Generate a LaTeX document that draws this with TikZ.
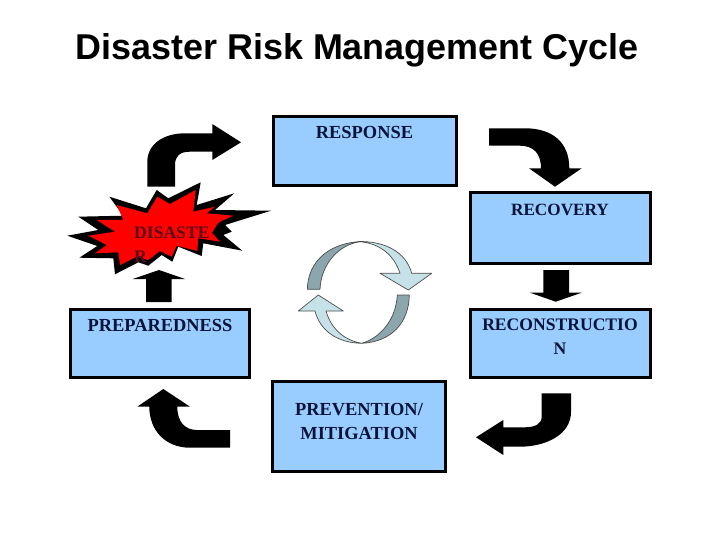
\documentclass[tikz,border=0pt]{standalone}
\usepackage{fontspec}
\setmainfont{Liberation Serif}
\newfontfamily\titlefont{Liberation Sans}
\definecolor{boxblue}{HTML}{99CCFF}
\definecolor{boxtext}{HTML}{0A1438}
\definecolor{burstred}{HTML}{FF0000}
\definecolor{bursttext}{HTML}{5A0A1A}
\definecolor{cyclelight}{HTML}{C6E2E8}
\definecolor{cycledark}{HTML}{8CA6AE}
\tikzset{
  stagebox/.style={draw=black,line width=3pt,fill=boxblue,inner sep=0pt},
  stagetext/.style={font=\fontsize{#1}{24}\selectfont\bfseries,text=boxtext,align=center,anchor=north,inner sep=0pt},
  stagetext/.default=18.4,
  cyclepart/.style={draw=black!70,line width=.7pt,line join=round}
}
\begin{document}
\begin{tikzpicture}[line cap=butt,line join=miter,x=1pt,y=-1pt]
			\useasboundingbox (0,0) rectangle (720,540);
			\node[font=\titlefont\fontsize{35.9}{38}\selectfont\bfseries] (title) at (357,50) {Disaster Risk Management Cycle};
			%boites
			\node[stagebox,minimum width=183pt,minimum height=69pt,label={[stagetext,yshift=-11pt]north:RESPONSE}] (response) at (364.5,151.5) {};
			\node[stagebox,minimum width=180pt,minimum height=70pt,label={[stagetext=17.2,yshift=-12pt]north:RECOVERY}] (recovery) at (560,228) {};
			\node[stagebox,minimum width=180pt,minimum height=68pt,label={[stagetext=17.6,yshift=-11pt]north:RECONSTRUCTIO\\N}] (reconstruction) at (560,343.5) {};
			\node[stagebox,minimum width=173pt,minimum height=90pt,label={[stagetext,yshift=-23pt]north:PREVENTION/\\MITIGATION}] (prevention) at (359,426.5) {};
			\node[stagebox,minimum width=179pt,minimum height=68pt,label={[stagetext,yshift=-11pt]north:PREPAREDNESS}] (preparedness) at (160,343.5) {};
			%grosses fleches
			\fill (147.3,186.7)--(147.3,162) .. controls (147.3,143) and (165,133.3) .. (185,133.3)--(212.3,133.3)--(212.3,124)--(241,142.3)--(212.3,160)--(212.3,151.7)--(190,151.7) .. controls (180,151.7) and (175,156) .. (175,165)--(175,186.7)--cycle;
			\fill (489,128.3)--(525,128.3) .. controls (552,128.3) and (569.3,142) .. (569.3,168.3)--(581.7,168.3)--(555,186.7)--(529,168.3)--(541,168.3) .. controls (541,153) and (533,145.7) .. (520,145.7)--(489,145.7)--cycle;
			\fill (543.3,270)--(569,270)--(569,292.7)--(581.7,292.7)--(555.7,301.7)--(530,292.7)--(543.3,292.7)--cycle;
			\fill (541.7,393.3)--(571,393.3)--(571,412) .. controls (571,435) and (545,446.7) .. (520,446.7)--(503.3,446.7)--(503.3,455)--(476,437.3)--(503.3,420)--(503.3,427.3)--(525,427.3) .. controls (535,427.3) and (541.7,424) .. (541.7,416.7)--cycle;
			\fill (230,430)--(230,447.7)--(190,447.7) .. controls (165,447.7) and (149.3,430) .. (149.3,406.7)--(137.3,406.7)--(163.3,389)--(190,406.7)--(177.3,406.7) .. controls (177.3,422) and (185,430) .. (197,430)--cycle;
			\fill (146,302)--(171.7,302)--(171.7,279)--(185,279)--(159,270)--(132.7,279)--(146,279)--cycle;
			%explosion
			\fill (67.3,235.7)--(98.3,230)--(78.3,216.7)--(123.3,215.7)--(109.3,196.7)--(146,208.3)--(156.7,190)--(168.3,198.3)--(200.7,182.3)--(196.7,205)--(234.3,193.3)--(215,210)--(271,210.7)--(225,225)--(231.7,231.7)--(223.3,235)--(242.3,250.7)--(203.3,243.3)--(201.7,256)--(178.3,246.7)--(172.3,261.7)--(161.7,255)--(148.3,265.7)--(138.3,262.3)--(115,274.3)--(113.3,258.3)--(79.3,257.7)--(97.3,246)--cycle;
			\fill[burstred] (88.3,235.7)--(115,231.7)--(96.7,220)--(123.3,220)--(116.7,205)--(147.3,213.3)--(157.3,196.7)--(170,204)--(195.7,190)--(193.3,211.7)--(215,206.7)--(206.7,213.3)--(233.3,215.7)--(220,221.7)--(216.7,225)--(212,233)--(220,241.7)--(198.3,238.3)--(197.3,251)--(176.7,245.7)--(171.7,256.7)--(160,251)--(148.3,260)--(136.7,256.7)--(120,265)--(118.3,252.3)--(95,253.3)--(106.7,245)--cycle;
			\node[font=\fontsize{17.6}{24}\selectfont\bfseries,text=bursttext,align=left,anchor=north west,inner sep=0pt] (disaster) at (134,227) {DISASTE\\R};
			%cycle central
			\filldraw[cyclepart,fill=cycledark] (307.3,289.3) .. controls (308,262) and (328,243) .. (361.7,241.5) .. controls (338,244) and (321,265) .. (320,289.3)--cycle;
			\filldraw[cyclepart,fill=cyclelight] (358,241.5) .. controls (385,241) and (406,252) .. (411.7,273.3)--(431.7,273.3)--(408.3,290)--(380,273.3)--(400,273.3) .. controls (394,255) and (380,243) .. (358,241.5)--cycle;
			\filldraw[cyclepart,fill=cycledark] (397.3,295)--(409.3,295) .. controls (409,322) and (392,342) .. (361.7,343.3) .. controls (380,338) and (396,320) .. (397.3,295)--cycle;
			\filldraw[cyclepart,fill=cyclelight] (361.7,343.3) .. controls (338,343) and (320,331) .. (315,311)--(298.3,311)--(318.3,295)--(343.3,311)--(326,311) .. controls (331,328) and (343,340) .. (361.7,343.3)--cycle;
\end{tikzpicture}
\end{document}
